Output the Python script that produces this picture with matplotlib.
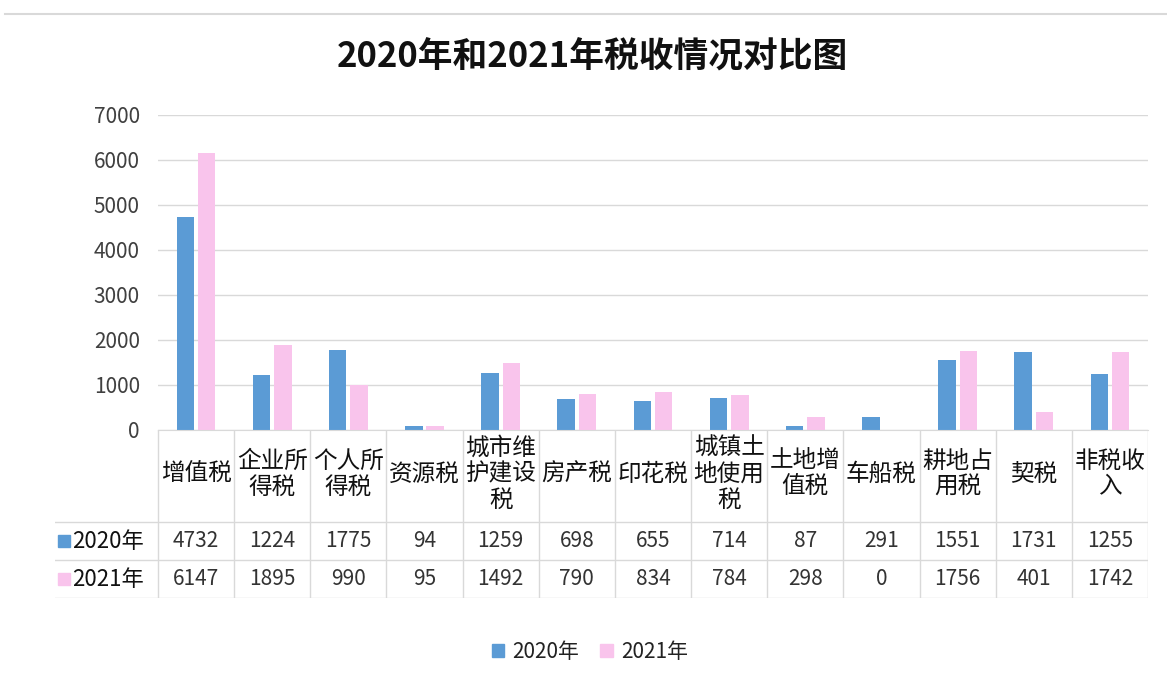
import textwrap
import numpy as np
import matplotlib
matplotlib.use('Agg')
import matplotlib.pyplot as plt
from matplotlib.lines import Line2D
from matplotlib.patches import Patch

plt.rcParams['font.family'] = ['Noto Sans CJK SC', 'DejaVu Sans']

categories = ['增值税', '企业所得税', '个人所得税', '资源税', '城市维护建设税', '房产税',
              '印花税', '城镇土地使用税', '土地增值税', '车船税', '耕地占用税', '契税', '非税收入']
series_names = ['2020年', '2021年']
v2020 = [4732, 1224, 1775, 94, 1259, 698, 655, 714, 87, 291, 1551, 1731, 1255]
v2021 = [6147, 1895, 990, 95, 1492, 790, 834, 784, 298, 0, 1756, 401, 1742]
yticks = [0, 1000, 2000, 3000, 4000, 5000, 6000, 7000]

blue = '#5b9bd5'
pink = '#f9c4ec'
grid_c = '#d9d9d9'
text_c = '#333333'

W, H = 1167, 686


def rect(x0, y0, x1, y1):
    # pixel box -> figure fraction
    return [x0 / W, 1 - y1 / H, (x1 - x0) / W, (y1 - y0) / H]


fig = plt.figure(figsize=(W / 100, H / 100), dpi=100)
fig.add_artist(Line2D([5 / W, 1], [1 - 14 / H] * 2, color=grid_c, lw=1.5))
fig.text(592 / W, 1 - 57 / H, '2020年和2021年税收情况对比图', ha='center', va='center',
         fontsize=25, fontweight='bold', color='#111111')

# bars
ax = fig.add_axes(rect(158, 115, 1148, 430))
x = np.arange(len(categories))
ax.bar(x - 0.14, v2020, 0.23, color=blue, zorder=2)
ax.bar(x + 0.14, v2021, 0.23, color=pink, zorder=2)
ax.set_xlim(-0.5, len(categories) - 0.5)
ax.set_ylim(0, 7000)
ax.set_yticks(yticks)
ax.set_xticks([])
ax.yaxis.grid(True, color=grid_c, lw=1)
ax.set_axisbelow(True)
for s in ['left', 'right', 'top']:
    ax.spines[s].set_visible(False)
ax.spines['bottom'].set_color(grid_c)
ax.tick_params(axis='y', length=0, pad=13, labelsize=15, labelcolor='#404040')

# data table under the axis
label_w = (158 - 55) / ((1148 - 158) / len(categories))
tax = fig.add_axes(rect(55, 430, 1148, 598))
x_left = -0.5 - label_w
tax.set_xlim(x_left, len(categories) - 0.5)
tax.set_ylim(598, 430)
tax.axis('off')
for i in range(len(categories) + 1):
    tax.plot([i - 0.5, i - 0.5], [430, 598], color=grid_c, lw=1)
for yy in [522, 560, 598]:
    tax.plot([x_left, len(categories) - 0.5], [yy, yy], color=grid_c, lw=1)

for i, c in enumerate(categories):
    tax.text(i, 474, '\n'.join(textwrap.wrap(c, 3)), ha='center', va='center',
             fontsize=17, linespacing=1.17, color='#111111')
    tax.text(i, 541, str(v2020[i]), ha='center', va='center', fontsize=15, color=text_c)
    tax.text(i, 579, str(v2021[i]), ha='center', va='center', fontsize=15, color=text_c)

for yy, name, col in zip([541, 579], series_names, [blue, pink]):
    tax.plot([x_left + 0.12], [yy], marker='s', ms=8, color=col, lw=0)
    tax.text(x_left + 0.22, yy, name, ha='left', va='center', fontsize=16, color='#111111')

handles = [Patch(color=blue), Patch(color=pink)]
fig.legend(handles, series_names, loc='center', bbox_to_anchor=(590 / W, 1 - 652 / H),
           ncol=2, frameon=False, fontsize=15, handlelength=0.6, handleheight=0.6,
           handletextpad=0.4, columnspacing=1.0, labelcolor='#222222')

fig.savefig('out.png', dpi=100)
